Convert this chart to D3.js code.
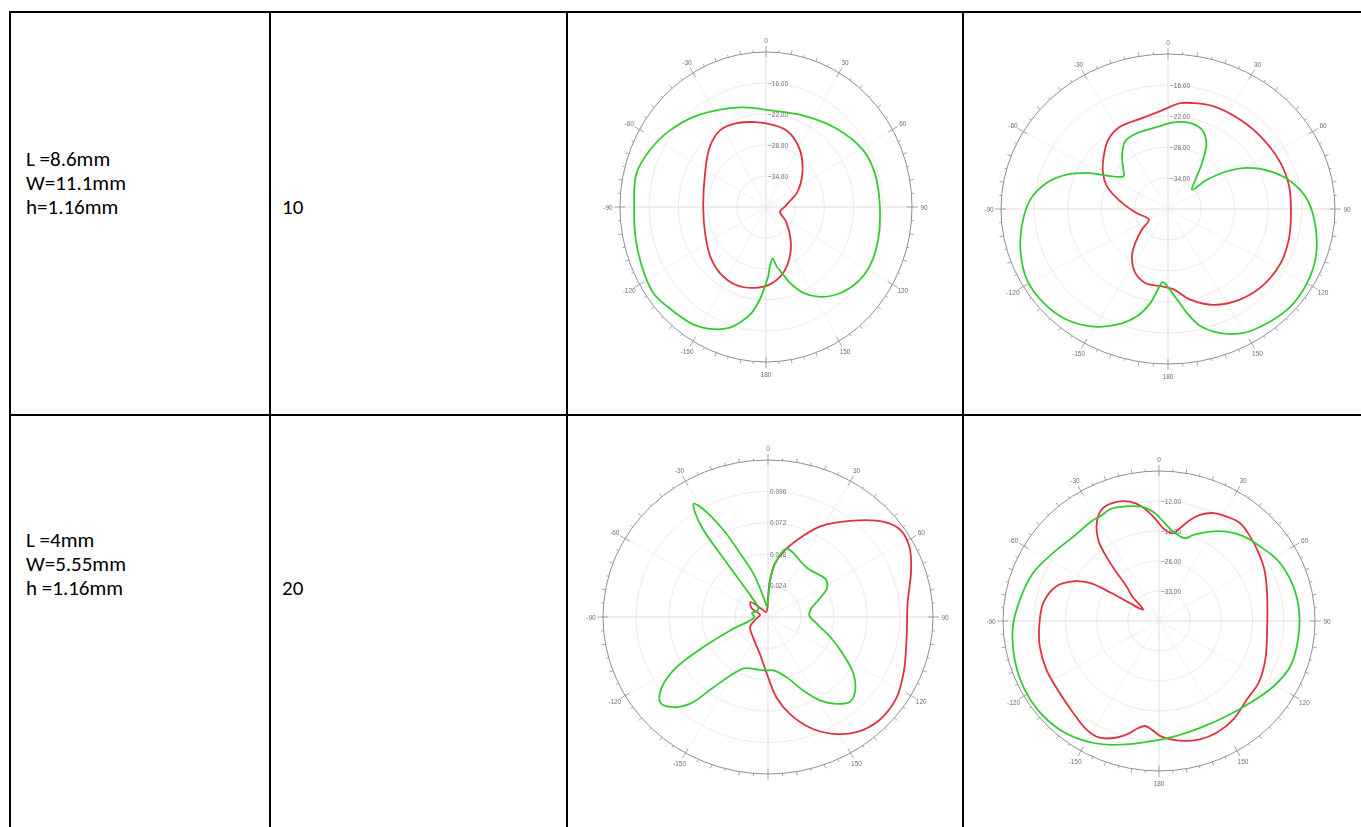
<!DOCTYPE html>
<html>
<head>
<meta charset="utf-8">
<script src="https://cdn.jsdelivr.net/npm/d3@7"></script>
<style>
  html, body { margin: 0; padding: 0; background: #fff; }
  svg { display: block; }
</style>
</head>
<body>
<svg id="chart" width="1361" height="827"></svg>
<script>
// ---- table text ----
const rowParams = [
  ["L =8.6mm", "W=11.1mm", "h=1.16mm"],
  ["L =4mm", "W=5.55mm", "h =1.16mm"]
];
const rowValues = ["10", "20"];

// ---- polar axis labels ----
const angleTicks = [0, 30, 60, 90, 120, 150, 180, -150, -120, -90, -60, -30];
const dbRings1 = [-34, -28, -22, -16];
const dbRings2 = [-34, -28, -22, -16];
const linRings3 = [0.024, 0.048, 0.072, 0.096];
const dbRings4 = [-33, -26, -19, -12];

// ---- pattern data: angle (deg, clockwise from top) and level ----
// plot 1 (L=8.6mm, first cut)
const p1RedDeg = [-171.8, -158.3, -143.5, -129.6, -112, -90, -62.7, -44.8, -32.5, -20.4, -7.8, 0, 16, 32.6, 49, 65.5, 79.6, 93, 107.4, 124.5, 141.4, 152.7, 164.4, 176.9];
const p1RedDb  = [-24.2, -23.7, -24.1, -25.1, -26.5, -27.1, -25.9, -23.6, -22.4, -22.7, -23.4, -23.8, -24.6, -27.0, -30.1, -32.9, -35.3, -36.4, -37.0, -35.0, -31.9, -29.3, -26.8, -25.0];
const p1GreenDeg = [-179.2, -176, -171.8, -166.6, -162.4, -155.4, -146.6, -133.2, -126.2, -118.3, -103.3, -90, -76.3, -65.3, -53.1, -38.8, -26.6, -15.5, -5.7, 0, 23.5, 43.8, 61.3, 73.9, 90, 105.4, 118.2, 128.2, 139.4, 148.3, 155.2, 161.5, 164.7, 169.2, 172.2, 176, 178];
const p1GreenDb  = [-24.7, -22.1, -19.3, -17.0, -15.5, -14.0, -12.8, -12.0, -11.5, -11.8, -12.5, -12.9, -12.6, -13.7, -15.3, -17.3, -18.9, -20.0, -20.8, -21.2, -20.7, -19.0, -17.2, -16.7, -16.6, -16.1, -15.8, -16.3, -17.7, -19.6, -21.7, -24.5, -26.4, -28.3, -29.9, -28.5, -26.6];

// plot 2 (L=8.6mm, second cut)
const p2RedDeg = [-174.7, -164.1, -154.6, -144.7, -138.2, -130.5, -120.7, -102.5, -94.2, -78.5, -68.2, -59.2, -48.6, -38.5, -28.2, -14.9, -4.2, 6.2, 12.7, 22.5, 37, 52.1, 66.2, 78.6, 92, 105.3, 117.3, 130.4, 143.4, 156.1, 167.1, 176.3];
const p2RedDb  = [-25.0, -25.1, -26.3, -28.8, -31.2, -33.8, -36.0, -34.9, -33.8, -30.9, -28.2, -26.4, -24.6, -22.8, -21.9, -21.8, -21.0, -19.4, -19.0, -18.5, -18.4, -18.2, -17.9, -17.8, -17.9, -17.5, -17.2, -17.4, -18.2, -19.7, -22.0, -24.4];
const p2GreenDeg = [-176.1, -173.7, -170.1, -165, -157.7, -149.5, -139.7, -129.1, -118.3, -107.8, -97.3, -85.8, -77, -69.9, -64.5, -51.6, -47.6, -39.1, -30.4, -20.8, -7.1, 3.5, 13.6, 21.7, 28.4, 34.5, 41, 49, 51.1, 55.5, 60.8, 68.4, 76.4, 85.9, 97.2, 109, 119.8, 130.5, 141, 150.4, 158.6, 165.6, 170.4, 174.7, 179.6];
const p2GreenDb  = [-25.8, -24.6, -21.5, -18.5, -15.8, -13.6, -11.9, -11.2, -11.2, -12.2, -13.5, -15.2, -17.6, -20.6, -23.8, -29.8, -29.2, -26.9, -24.8, -24.3, -24.0, -23.2, -22.9, -23.5, -25.5, -29.2, -32.5, -34.3, -31.0, -27.1, -23.7, -20.2, -17.3, -14.9, -13.3, -11.9, -11.2, -11.0, -11.6, -12.4, -14.2, -16.6, -19.6, -22.4, -24.7];

// plot 3 (L=4mm, first cut, linear scale)
const p3RedDeg = [-178.7, -168.4, -145, -120, -95, -75, -60, -48, -38, -20, -5, 0, 2.9, 7, 12.6, 19.5, 28.8, 39.9, 49, 55.3, 62.5, 71.1, 84.3, 98.7, 112.4, 123.3, 134.3, 143.9, 152.1, 160.1, 167.8, 174.2];
const p3RedVal = [0.043, 0.029, 0.019, 0.015, 0.008, 0.006, 0.014, 0.017, 0.008, 0.004, 0.006, 0.014, 0.028, 0.041, 0.051, 0.062, 0.079, 0.096, 0.111, 0.117, 0.116, 0.110, 0.102, 0.102, 0.107, 0.112, 0.113, 0.109, 0.101, 0.090, 0.076, 0.062];
const p3GreenDeg = [-175.3, -164.9, -155.7, -149.9, -143.5, -139.5, -134, -129.7, -124.8, -120, -116, -110.3, -100.9, -90, -75, -60, -45, -38, -36, -35, -33, -32, -30, -26, -22.7, -17.8, -12.3, -5, 0, 3, 7, 14.5, 19, 28.2, 38.9, 48.2, 56.3, 63, 69.6, 78.6, 87.5, 98.3, 108.8, 117.2, 125, 132.9, 137.6, 143.1, 149.4, 155.4, 163.6, 174.6];
const p3GreenVal = [0.041, 0.041, 0.043, 0.050, 0.067, 0.087, 0.099, 0.102, 0.094, 0.077, 0.052, 0.029, 0.013, 0.010, 0.012, 0.009, 0.010, 0.020, 0.050, 0.084, 0.099, 0.102, 0.096, 0.074, 0.053, 0.035, 0.016, 0.008, 0.013, 0.027, 0.041, 0.054, 0.053, 0.049, 0.047, 0.049, 0.051, 0.048, 0.040, 0.032, 0.030, 0.036, 0.048, 0.061, 0.076, 0.086, 0.088, 0.083, 0.074, 0.062, 0.048, 0.041];

// plot 4 (L=4mm, second cut)
const p4RedDeg = [-176.3, -172.7, -169.4, -166, -160.7, -154, -147.3, -138, -127, -114.2, -102.4, -92.6, -80.8, -70.6, -64.4, -60.3, -58.5, -57.5, -53.4, -46, -42, -40, -38, -35.8, -30.4, -25.5, -18.9, -13.2, -8.3, -3, 3.6, 8.9, 12.3, 16.5, 20.4, 25.9, 32, 38.6, 46.1, 54.7, 63.2, 75, 92.9, 110.7, 122.9, 132.9, 144, 153.6, 161.6, 169, 174.9, 179.5];
const p4RedDb  = [-14.6, -15.3, -14.6, -13.1, -11.2, -9.7, -9.9, -11.2, -12.1, -12.3, -12.6, -13.1, -13.7, -15.6, -18.6, -22.1, -27.5, -32.0, -35.6, -31.5, -29.1, -25.0, -20.5, -16.7, -12.6, -10.8, -10.6, -11.4, -13.0, -15.6, -18.7, -19.3, -17.8, -15.4, -13.6, -12.0, -11.3, -10.8, -11.6, -12.6, -13.5, -14.9, -15.7, -14.5, -13.4, -13.1, -11.6, -10.9, -10.9, -11.5, -12.3, -13.2];
const p4GreenDeg = [-177.4, -165.8, -156.5, -147.3, -137.7, -127.2, -117.1, -105.4, -92.2, -81, -68.4, -56.4, -44.3, -32, -28.6, -22.9, -15.2, -7.6, -2.1, 2.4, 8.8, 16.8, 21, 28.8, 36.1, 43.9, 52.6, 61.6, 71.9, 83.8, 96.5, 109.7, 120.6, 133, 145.5, 159.7, 171.6];
const p4GreenDb  = [-12.0, -10.3, -8.6, -7.2, -6.2, -5.8, -5.9, -6.4, -7.2, -8.4, -9.6, -11.4, -12.5, -12.2, -12.3, -11.7, -12.3, -13.2, -14.8, -16.8, -18.9, -19.8, -18.5, -16.2, -14.2, -12.6, -11.4, -9.9, -9.0, -8.5, -8.5, -8.7, -10.1, -12.0, -13.1, -13.4, -12.9];

// ---- layout ----
const W = 1361, H = 827;
const tableLeft = 10, tableTop = 12;
const colX = [10, 270, 567, 963];
const rowY = [12, 415];

const svg = d3.select("#chart");

const defs = svg.append("defs");
defs.append("filter").attr("id", "soft")
  .attr("x", "-10%").attr("y", "-10%").attr("width", "120%").attr("height", "120%")
  .append("feGaussianBlur").attr("stdDeviation", 0.45);

// table grid
const grid = svg.append("g").attr("stroke", "#000").attr("stroke-width", 2).attr("shape-rendering", "crispEdges");
rowY.forEach(y => grid.append("line").attr("x1", tableLeft - 1).attr("x2", W).attr("y1", y).attr("y2", y));
colX.forEach(x => grid.append("line").attr("x1", x).attr("x2", x).attr("y1", tableTop - 1).attr("y2", H));

// table text
const textFont = "Carlito, Calibri, Lato, 'Open Sans', sans-serif";
const rowBase = [166, 547];
rowParams.forEach((lines, i) => {
  lines.forEach((t, j) => {
    svg.append("text").attr("x", 26).attr("y", rowBase[i] + j * 24)
      .attr("font-family", textFont).attr("font-size", 21).attr("fill", "#000").text(t);
  });
  svg.append("text").attr("x", 282).attr("y", rowBase[i] + 48)
    .attr("font-family", textFont).attr("font-size", 21).attr("fill", "#000").text(rowValues[i]);
});

// ---- polar plots ----
const plots = [
  { cx: 766, cy: 207, rx: 146, ry: 155, domain: [-40, -10], rings: dbRings1, fmt: d3.format(".2f"), show180: true,
    red: d3.zip(p1RedDeg, p1RedDb), green: d3.zip(p1GreenDeg, p1GreenDb) },
  { cx: 1168, cy: 209, rx: 167, ry: 155, domain: [-40, -10], rings: dbRings2, fmt: d3.format(".2f"), show180: true,
    red: d3.zip(p2RedDeg, p2RedDb), green: d3.zip(p2GreenDeg, p2GreenDb) },
  { cx: 768, cy: 617, rx: 165, ry: 157, domain: [0, 0.12], rings: linRings3, fmt: d3.format(".3f"), show180: false,
    red: d3.zip(p3RedDeg, p3RedVal), green: d3.zip(p3GreenDeg, p3GreenVal) },
  { cx: 1159, cy: 621, rx: 156, ry: 150, domain: [-40, -5], rings: dbRings4, fmt: d3.format(".2f"), show180: true,
    red: d3.zip(p4RedDeg, p4RedDb), green: d3.zip(p4GreenDeg, p4GreenDb) }
];

const ringTints = ["#e4e4ec", "#dcecf0", "#f2e0ea", "#efe6dc"];

function drawPolar(cfg) {
  const g = svg.append("g")
    .attr("transform", `translate(${cfg.cx},${cfg.cy})`)
    .attr("filter", "url(#soft)");
  const r = d3.scaleLinear().domain(cfg.domain).range([0, 1]);
  const ang = d3.scaleLinear().domain([0, 360]).range([0, 2 * Math.PI]);
  const px = (deg, n) => cfg.rx * n * Math.sin(ang(deg));
  const py = (deg, n) => -cfg.ry * n * Math.cos(ang(deg));

  // spokes every 30 degrees, axes slightly darker
  d3.range(0, 360, 30).forEach(a => {
    g.append("line").attr("x1", 0).attr("y1", 0)
      .attr("x2", px(a, 1)).attr("y2", py(a, 1))
      .attr("stroke", a % 90 === 0 ? "#d4d4d4" : "#ececec").attr("stroke-width", 0.8);
  });

  // concentric grid rings
  cfg.rings.forEach((v, i) => {
    g.append("ellipse").attr("cx", 0).attr("cy", 0)
      .attr("rx", cfg.rx * r(v)).attr("ry", cfg.ry * r(v))
      .attr("fill", "none").attr("stroke", ringTints[i % ringTints.length]).attr("stroke-width", 0.9);
  });

  // outer ring
  g.append("ellipse").attr("cx", 0).attr("cy", 0).attr("rx", cfg.rx).attr("ry", cfg.ry)
    .attr("fill", "none").attr("stroke", "#8f8f8f").attr("stroke-width", 1);

  // tick marks on the outer ring
  d3.range(0, 360, 5).forEach(a => {
    const major = a % 30 === 0;
    const out = major ? 6 : (a % 10 === 0 ? 4 : 2.5);
    const inn = major ? 5 : 0;
    const s = Math.sin(ang(a)), c = Math.cos(ang(a));
    const x0 = px(a, 1), y0 = py(a, 1);
    g.append("line")
      .attr("x1", x0 - inn * s).attr("y1", y0 + inn * c)
      .attr("x2", x0 + out * s).attr("y2", y0 - out * c)
      .attr("stroke", "#8f8f8f").attr("stroke-width", 0.8);
  });

  // angle labels
  angleTicks.forEach(a => {
    if (a === 180 && !cfg.show180) return;
    const s = Math.sin(ang(a)), c = Math.cos(ang(a));
    const off = 12;
    g.append("text")
      .attr("x", px(a, 1) + off * s).attr("y", py(a, 1) - off * c)
      .attr("text-anchor", "middle").attr("dominant-baseline", "central")
      .attr("font-family", "Arial, 'Liberation Sans', sans-serif").attr("font-size", 6.5)
      .attr("fill", "#707070").text(a);
  });

  // ring value labels along the upper vertical axis
  cfg.rings.forEach(v => {
    g.append("text").attr("x", 2).attr("y", -cfg.ry * r(v))
      .attr("dominant-baseline", "central")
      .attr("font-family", "Arial, 'Liberation Sans', sans-serif").attr("font-size", 6.5)
      .attr("fill", "#707070").text(cfg.fmt(v));
  });

  // pattern curves
  const line = d3.line()
    .x(d => px(d[0], r(d[1])))
    .y(d => py(d[0], r(d[1])))
    .curve(d3.curveCatmullRomClosed.alpha(0.5));

  const series = [
    { data: cfg.red, color: "#dd3340" },
    { data: cfg.green, color: "#33cc33" }
  ];
  series.forEach(sr => {
    const pts = sr.data.slice().sort((p, q) => p[0] - q[0]);
    g.append("path").attr("d", line(pts))
      .attr("fill", "none").attr("stroke", sr.color).attr("stroke-width", 1.8)
      .attr("stroke-linejoin", "round");
  });
}

plots.forEach(drawPolar);
</script>
</body>
</html>
